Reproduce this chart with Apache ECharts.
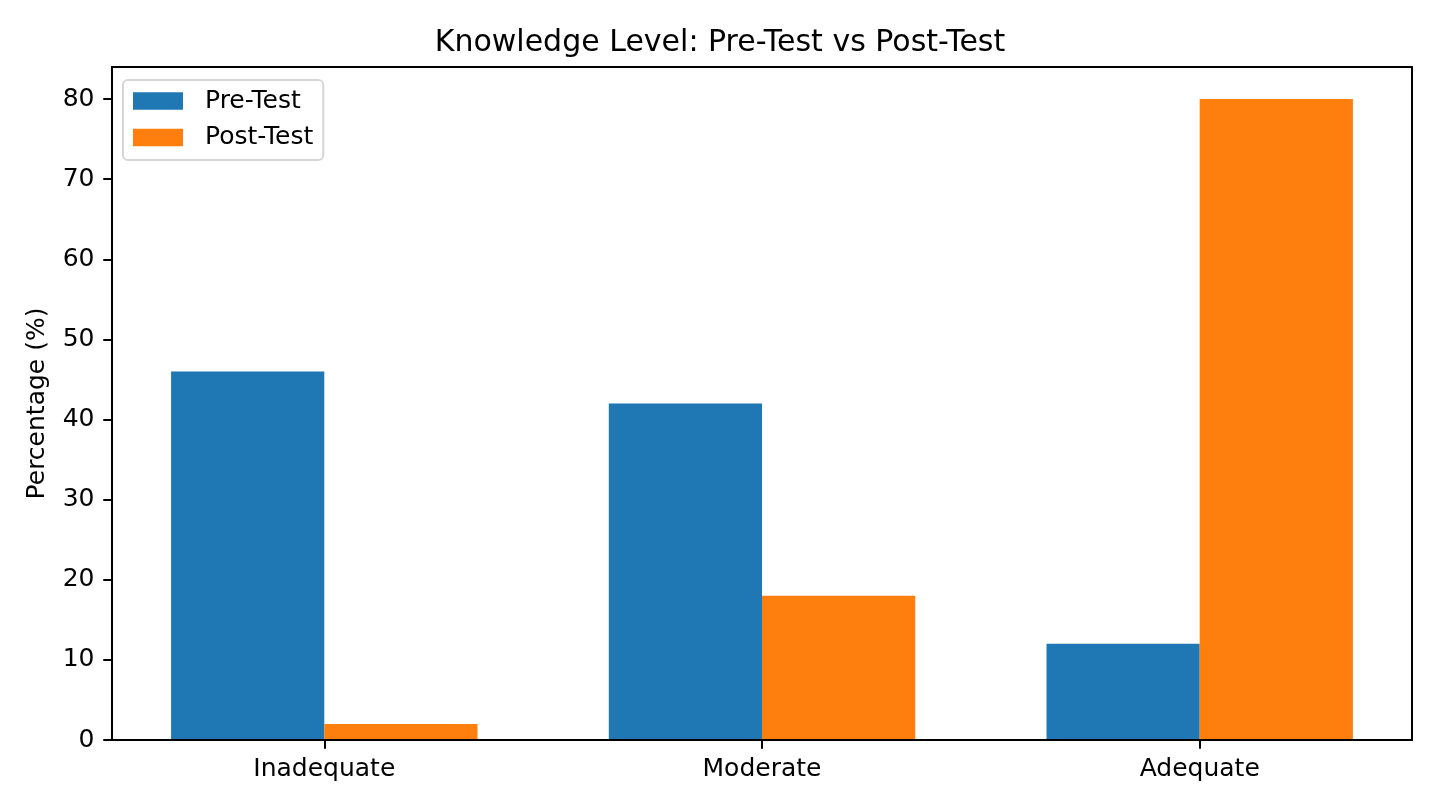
<!DOCTYPE html>
<html>
<head>
<meta charset="utf-8">
<script src="https://cdn.jsdelivr.net/npm/echarts@6/dist/echarts.min.js"></script>
<style>
html,body{margin:0;padding:0;background:#fff;}
#chart{width:1440px;height:810px;}
</style>
</head>
<body>
<div id="chart"></div>
<script>
const categories = ['Inadequate', 'Moderate', 'Adequate'];
const preTest = [46, 42, 12];
const postTest = [2, 18, 80];
const yTicks = [0, 10, 20, 30, 40, 50, 60, 70, 80];
const yMax = 84;

const FONT = 'DejaVu Sans';
const chart = echarts.init(document.getElementById('chart'));
const frameAxis = (pos, idx) => ({
  type: 'value', gridIndex: 0, position: pos, min: 0, max: 1, z: 10,
  axisLine: { show: true, onZero: false, lineStyle: { color: '#000', width: 2 } },
  axisTick: { show: false }, axisLabel: { show: false }, splitLine: { show: false }
});
chart.setOption({
  animation: false,
  backgroundColor: '#fff',
  textStyle: { fontFamily: FONT },
  title: {
    text: 'Knowledge Level: Pre-Test vs Post-Test',
    left: 'center', top: 28, padding: [0, 0, 0, 84],
    textStyle: { fontFamily: FONT, fontSize: 30, fontWeight: 'normal', color: '#000', lineHeight: 30 }
  },
  legend: {
    orient: 'vertical', left: 123, top: 80,
    padding: [8.5, 10, 10, 10],
    itemWidth: 50, itemHeight: 17.5, itemGap: 11.5,
    icon: 'rect',
    backgroundColor: 'rgba(255,255,255,0.8)',
    borderColor: '#d6d6d6', borderWidth: 2, borderRadius: 5,
    textStyle: { fontFamily: FONT, fontSize: 25, lineHeight: 25, color: '#000', padding: [0, 0, 0, 17] },
    data: ['Pre-Test', 'Post-Test']
  },
  grid: [
    { left: 112, right: 28, top: 67, bottom: 70 },
    { left: 105.43, right: 21.43, top: 67, bottom: 70 }
  ],
  xAxis: [
    frameAxis('bottom'),
    frameAxis('top'),
    {
      type: 'category', gridIndex: 1, data: categories, z: 10,
      axisLine: { show: false },
      axisTick: { show: true, alignWithLabel: true, length: 8.75, lineStyle: { color: '#000', width: 2 } },
      axisLabel: { fontFamily: FONT, fontSize: 25, lineHeight: 25, color: '#000', margin: 17 },
      splitLine: { show: false }
    }
  ],
  yAxis: [
    {
      type: 'value', gridIndex: 0, position: 'left', min: 0, max: yMax, z: 10,
      name: 'Percentage (%)', nameLocation: 'middle', nameGap: 62,
      nameTextStyle: { fontFamily: FONT, fontSize: 25, color: '#000' },
      axisLine: { show: true, lineStyle: { color: '#000', width: 2 } },
      axisTick: { show: true, length: 8.75, customValues: yTicks, lineStyle: { color: '#000', width: 2 } },
      axisLabel: { fontFamily: FONT, fontSize: 25, color: '#000', margin: 17.5, customValues: yTicks },
      splitLine: { show: false }
    },
    frameAxis('right'),
    { type: 'value', gridIndex: 1, min: 0, max: yMax, show: false }
  ],
  series: [
    {
      name: 'Pre-Test', type: 'bar', xAxisIndex: 2, yAxisIndex: 2,
      data: preTest, barWidth: '35%', barGap: '0%',
      itemStyle: { color: '#1f77b4' }
    },
    {
      name: 'Post-Test', type: 'bar', xAxisIndex: 2, yAxisIndex: 2,
      data: postTest, barWidth: '35%', barGap: '0%',
      itemStyle: { color: '#ff7f0e' }
    }
  ]
});
</script>
</body>
</html>
